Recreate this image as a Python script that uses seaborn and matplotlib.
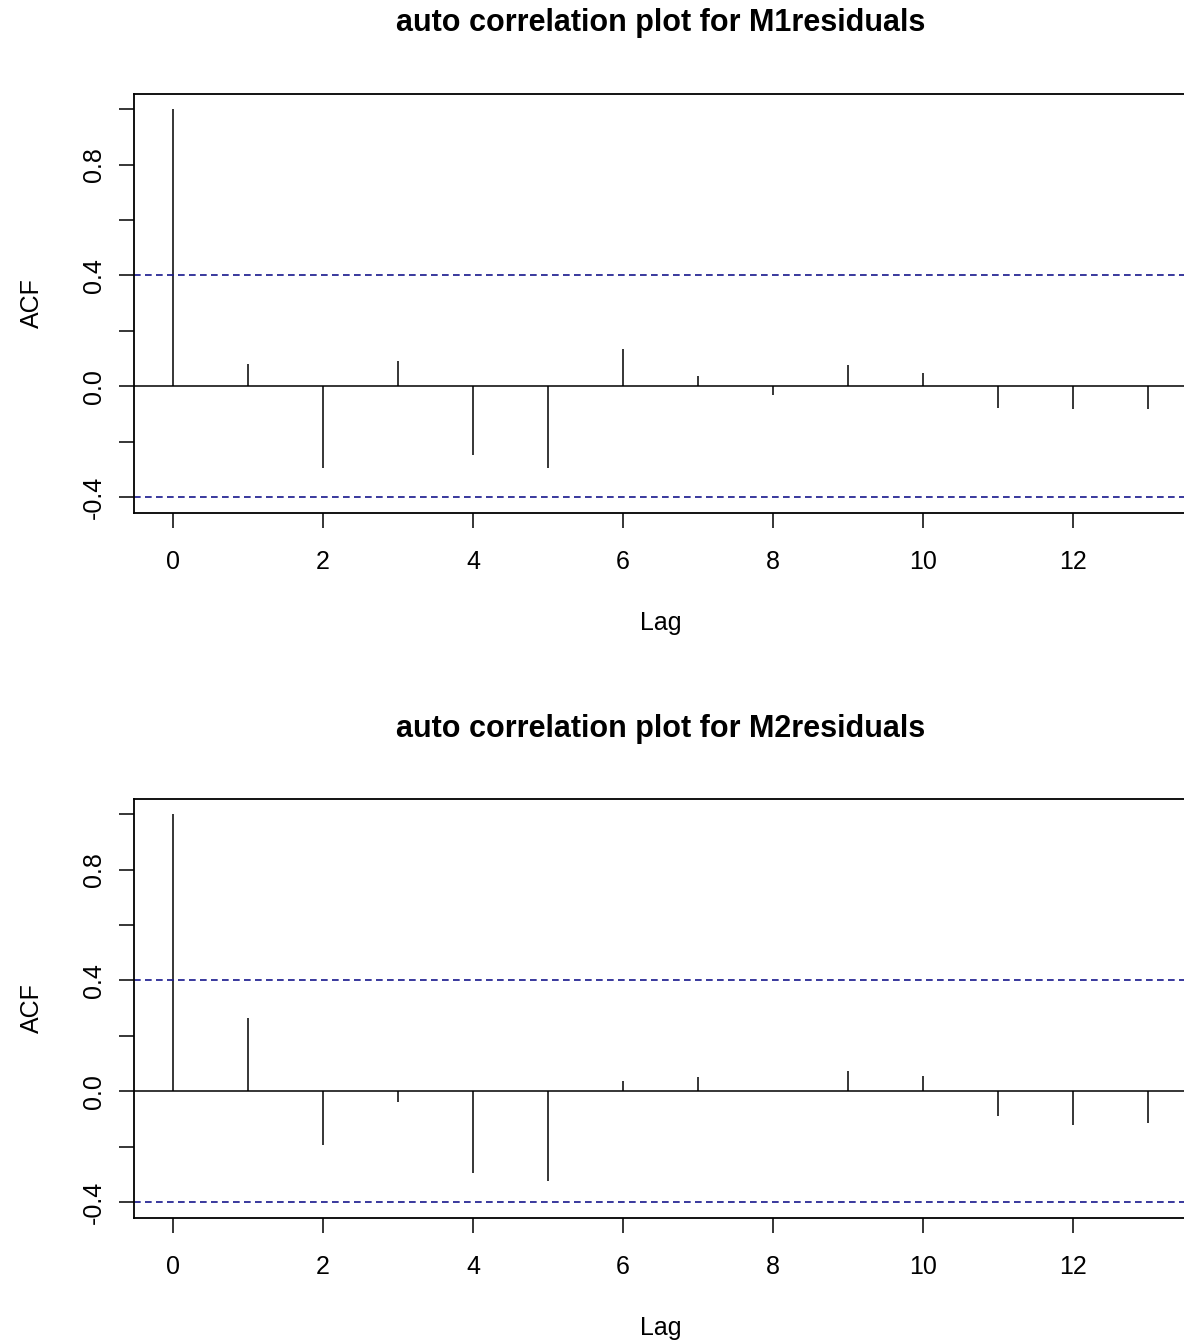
import numpy as np
import pandas as pd
import matplotlib
matplotlib.use("Agg")
import matplotlib.pyplot as plt
import seaborn as sns

# Autocorrelation estimates of the residuals for lags 0..13
lags = list(range(14))
acf_m1 = [1.0, 0.081, -0.295, 0.090, -0.247, -0.295, 0.135, 0.037,
          -0.031, 0.077, 0.048, -0.078, -0.083, -0.083]
acf_m2 = [1.0, 0.266, -0.192, -0.039, -0.294, -0.324, 0.039, 0.051,
          0.003, 0.075, 0.054, -0.090, -0.120, -0.114]
conf_bound = 0.40
titles = ["auto correlation plot for M1residuals",
          "auto correlation plot for M2residuals"]
y_ticks = [-0.4, 0.0, 0.4, 0.8]
y_minor = [-0.2, 0.2, 0.6, 1.0]
x_ticks = [0, 2, 4, 6, 8, 10, 12]

sns.set_theme(style="white")
plt.rcParams["font.family"] = ["Liberation Sans", "DejaVu Sans"]
plt.rcParams["text.color"] = "black"
plt.rcParams["axes.labelcolor"] = "black"
plt.rcParams["xtick.color"] = "black"
plt.rcParams["ytick.color"] = "black"

W, H = 1184, 1344
fig = plt.figure(figsize=(W / 100, H / 100), dpi=100)

left_px, right_px = 134, 1187
panel_h = 419
tops = [93.7, 798.7]
title_y = [23.5, 728.5]

for top, ty, vals, title in zip(tops, title_y, [acf_m1, acf_m2], titles):
    ax = fig.add_axes([left_px / W, 1 - (top + panel_h) / H,
                       (right_px - left_px) / W, panel_h / H])
    df = pd.DataFrame({"lag": lags, "acf": vals})
    ax.vlines(df["lag"], 0, df["acf"], color="black", linewidth=1.1)
    ax.axhline(0, color="black", linewidth=1.1)
    for b in (conf_bound, -conf_bound):
        ax.axhline(b, color="#16168c", linewidth=1.2,
                   linestyle=(0, (4.0, 2.6)))
    ax.set_xlim(-0.52, 13.52)
    ax.set_ylim(-0.456, 1.056)

    ax.set_yticks(y_ticks)
    ax.set_yticks(y_minor, minor=True)
    ax.set_yticklabels([f"{v:.1f}" for v in y_ticks], rotation=90,
                       va="center", fontsize=18)
    ax.set_xticks(x_ticks)
    ax.set_xticklabels([str(v) for v in x_ticks], fontsize=18)
    ax.tick_params(axis="both", which="both", direction="out", length=11,
                   width=1.1, color="black", left=True, bottom=True)
    ax.tick_params(axis="x", pad=15.5)
    ax.tick_params(axis="y", pad=9.5)
    for side, sp in ax.spines.items():
        sp.set_color("black")
        sp.set_linewidth(1.3)
    ax.set_xlabel("Lag", fontsize=18, labelpad=27)
    ax.set_ylabel("ACF", fontsize=18, labelpad=27)
    ax.set_facecolor("white")
    fig.text((left_px + right_px) / 2 / W, 1 - ty / H, title,
             ha="center", va="center", fontsize=22, fontweight="bold",
             color="black")

fig.savefig("out.png", dpi=100, facecolor="white")
